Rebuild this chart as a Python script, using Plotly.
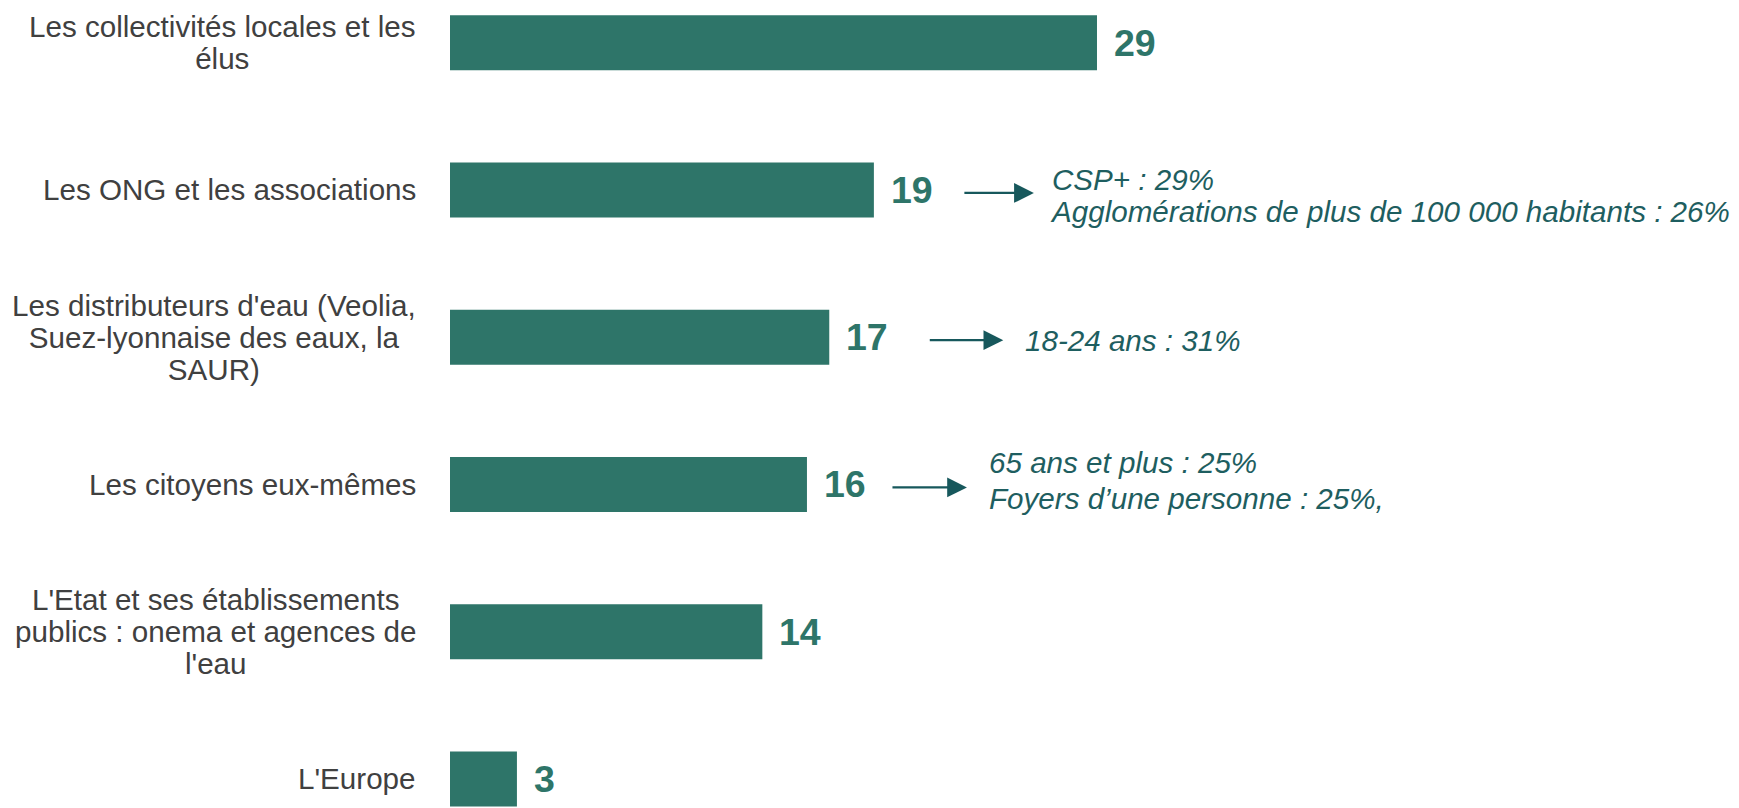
import plotly.graph_objects as go

# ---- data ----
categories = [
    "Les collectivités locales et les<br>élus",
    "Les ONG et les associations",
    "Les distributeurs d'eau (Veolia,<br>Suez-lyonnaise des eaux, la<br>SAUR)",
    "Les citoyens eux-mêmes",
    "L'Etat et ses établissements<br>publics : onema et agences de<br>l'eau",
    "L'Europe",
]
values = [29, 19, 17, 16, 14, 3]

notes = {
    "Les ONG et les associations": ["CSP+ : 29%", "Agglomérations de plus de 100 000 habitants : 26%"],
    "Les distributeurs d'eau (Veolia,<br>Suez-lyonnaise des eaux, la<br>SAUR)": ["18-24 ans : 31%"],
    "Les citoyens eux-mêmes": ["65 ans et plus : 25%", "Foyers d’une personne : 25%,"],
}

# ---- styles ----
BAR = "#2E7569"
NOTE = "#1E5E60"
ARROW = "#17585C"
LABEL = "#404040"
FONT = "Arial, Liberation Sans, sans-serif"
TXT = 29.6

W, H = 1731, 800
L = 442
SCALE = 22.31  # px per unit

def spaced(lines, size, spacing):
    """lines with custom line spacing: base font controls spacing, spans set size"""
    return "<br>".join(f'<span style="font-size:{size}px">{ln}</span>' for ln in lines), spacing / 1.3

fig = go.Figure(go.Bar(
    x=values, y=categories, orientation="h",
    marker=dict(color=BAR, line=dict(width=0)),
    width=0.3735, hoverinfo="skip",
))

ann = []
for cat, v in zip(categories, values):
    txt, base = spaced(cat.split("<br>"), TXT, 32)
    ann.append(dict(x=0, xref="paper", y=cat, yref="y", text=txt, showarrow=False,
                    xanchor="right", yanchor="middle", align="center", xshift=-32,
                    font=dict(family=FONT, size=base, color=LABEL)))
    ann.append(dict(x=v, y=cat, text=f"<b>{v}</b>", showarrow=False,
                    xanchor="left", yanchor="middle", xshift=15,
                    font=dict(family=FONT, size=37.5, color=BAR)))

note_cfg = {
    "Les ONG et les associations": dict(head=160, tail=71, text=174, spacing=32, ty=-6),
    "Les distributeurs d'eau (Veolia,<br>Suez-lyonnaise des eaux, la<br>SAUR)": dict(head=174, tail=75, text=194, spacing=32, ty=-3),
    "Les citoyens eux-mêmes": dict(head=160, tail=76, text=180, spacing=36.4, ty=4),
}
for cat, lines in notes.items():
    v = values[categories.index(cat)]
    c = note_cfg[cat]
    ann.append(dict(x=v, y=cat, text="", showarrow=True, ax=-c["tail"], ay=0,
                    xshift=c["head"], yshift=-3, arrowhead=2, arrowsize=1.8, arrowwidth=2.2,
                    arrowcolor=ARROW, standoff=0, startstandoff=0))
    txt, base = spaced([f"<i>{ln}</i>" for ln in lines], TXT, c["spacing"])
    ann.append(dict(x=v, y=cat, text=txt, showarrow=False, xanchor="left", yanchor="middle",
                    align="left", xshift=c["text"], yshift=c["ty"],
                    font=dict(family=FONT, size=base, color=NOTE)))

fig.update_layout(
    width=W, height=H,
    margin=dict(l=L, r=0, t=0, b=0),
    paper_bgcolor="white", plot_bgcolor="white",
    showlegend=False,
    annotations=ann,
    xaxis=dict(range=[0, (W - L) / SCALE], visible=False, fixedrange=True),
    yaxis=dict(range=[5.197, -0.2356], showticklabels=False, showgrid=False,
               zeroline=False, showline=False, ticks="", fixedrange=True),
)

fig.write_html("out.html", config={"displayModeBar": False})
